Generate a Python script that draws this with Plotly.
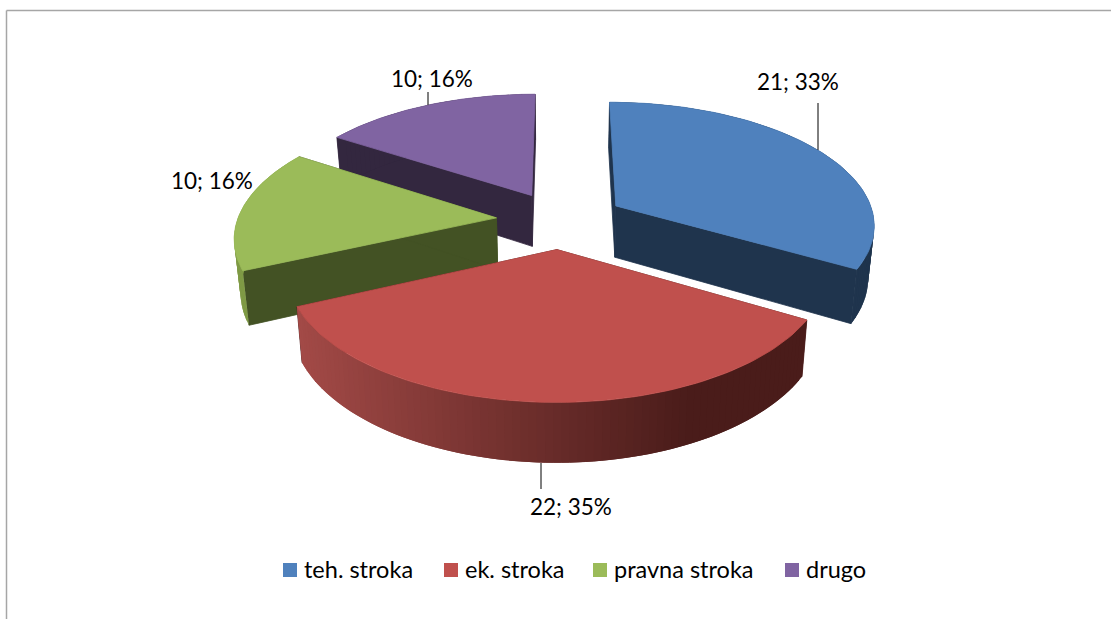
import math
import plotly.graph_objects as go

categories = ["teh. stroka", "ek. stroka", "pravna stroka", "drugo"]
values = [21, 22, 10, 10]
percent_labels = ["33%", "35%", "16%", "16%"]
top_colors = ["#4f81bd", "#c0504d", "#9bbb59", "#8064a2"]
wall_colors = ["#1f344d", "#4a1c1a", "#435224", "#33273f"]
slice_nudge = [(4, 0), (0, 0), (-3, 0), (0, 0)]

W, H = 1111, 619
CX, CY = 560, 220
A, B = 259, 122
P = 0.141
EXPLODE = 0.235
DEPTH = 52
SHRINK = 0.02


def project(X, Y, z=0.0):
    w = (1 - P * Y) * (1 + SHRINK * z)
    return CX + A * X / w, CY + (B * Y) / (1 - P * Y) + DEPTH * z / (1 - 0.8 * P * Y)


def mix(c1, c2, t):
    a = [int(c1[i:i + 2], 16) for i in (1, 3, 5)]
    b = [int(c2[i:i + 2], 16) for i in (1, 3, 5)]
    return "#%02x%02x%02x" % tuple(round(u + (v - u) * t) for u, v in zip(a, b))


total = sum(values)
fig = go.Figure()


def poly(xs, ys, color, lw=0.8):
    fig.add_trace(go.Scatter(x=xs, y=ys, mode="lines", fill="toself", fillcolor=color,
                             line=dict(color=color, width=lw), hoverinfo="skip", showlegend=False))


slices = []
start = 0.0
for i, v in enumerate(values):
    sweep = 360.0 * v / total
    slices.append((i, start, start + sweep))
    start += sweep


def rim_pt(i0, th, z=0.0):
    _, s, e = slices[i0]
    m = math.radians((s + e) / 2)
    ox, oy = EXPLODE * math.sin(m), -EXPLODE * math.cos(m)
    t = math.radians(th)
    x, y = project(ox + math.sin(t), oy - math.cos(t), z)
    return x + slice_nudge[i0][0], y + slice_nudge[i0][1]


def apex(i0, z=0.0):
    _, s, e = slices[i0]
    m = math.radians((s + e) / 2)
    x, y = project(EXPLODE * math.sin(m), -EXPLODE * math.cos(m), z)
    return x + slice_nudge[i0][0], y + slice_nudge[i0][1]


def draw_slice(i0):
    _, s, e = slices[i0]
    top, wall = top_colors[i0], wall_colors[i0]
    n = max(10, int((e - s) / 1.5))
    # cut walls
    for th in (s, e):
        a0, a1 = apex(i0), apex(i0, 1)
        r0, r1 = rim_pt(i0, th), rim_pt(i0, th, 1)
        poly([a0[0], r0[0], r1[0], a1[0], a0[0]], [a0[1], r0[1], r1[1], a1[1], a0[1]], wall)
    # outer rim in overlapping strips, drawn from the far end so no seams show
    for k in range(n - 1, -1, -1):
        t0 = s + (e - s) * k / n
        t1 = s + (e - s) * min(n, k + 2) / n
        p = [rim_pt(i0, t0), rim_pt(i0, t1), rim_pt(i0, t1, 1), rim_pt(i0, t0, 1), rim_pt(i0, t0)]
        if i0 == 1:
            f = (700 - p[0][0]) / 400
            col = mix("#4a1c1a", "#a34a47", max(0.0, min(1.0, f)))
        elif i0 == 2:
            col = "#7f9a45"
        else:
            col = wall
        poly([q[0] for q in p], [q[1] for q in p], col, lw=0)
    # top face
    pts = [apex(i0)] + [rim_pt(i0, s + (e - s) * k / 80) for k in range(81)] + [apex(i0)]
    poly([q[0] for q in pts], [q[1] for q in pts], top)


for i0 in (3, 2, 0, 1):
    draw_slice(i0)

# data labels and leader lines
FONT = "Lato, Carlito, sans-serif"
label_font = dict(family=FONT, size=22.5, color="#000000")
label_pos = [(798, 81), (571, 506), (212, 180), (432, 78)]
leaders = [(818, 103, 818, 150), (541, 463, 541, 489), None, (428, 92, 428, 105)]
for i0, (lx, ly) in enumerate(label_pos):
    fig.add_annotation(x=lx, y=ly, text=f"{values[i0]}; {percent_labels[i0]}", showarrow=False,
                       font=label_font, xanchor="center", yanchor="middle")
    if leaders[i0]:
        x0, y0, x1, y1 = leaders[i0]
        fig.add_shape(type="line", x0=x0, y0=y0, x1=x1, y1=y1,
                      line=dict(color="#000000", width=1))

# legend row
legend_x = [290, 451, 600, 792]
legend_y = 570
for c, col, lx in zip(categories, top_colors, legend_x):
    fig.add_trace(go.Scatter(x=[lx], y=[legend_y], mode="markers", name=c, showlegend=False,
                             hoverinfo="skip",
                             marker=dict(symbol="square", size=14, color=col)))
    fig.add_annotation(x=lx + 11.5, y=legend_y - 1, text=c, showarrow=False, xanchor="left",
                       yanchor="middle",
                       font=dict(family=FONT, size=23.5, color="#000000"))

# chart frame
frame = "#a6a6a6"
fig.add_shape(type="line", x0=6.5, y0=10.5, x1=W, y1=10.5, line=dict(color=frame, width=1.5))
fig.add_shape(type="line", x0=6.5, y0=10.5, x1=6.5, y1=H, line=dict(color=frame, width=1.5))

fig.update_layout(
    width=W, height=H, margin=dict(l=0, r=0, t=0, b=0),
    paper_bgcolor="white", plot_bgcolor="white", showlegend=False,
    xaxis=dict(range=[0, W], visible=False, fixedrange=True),
    yaxis=dict(range=[H, 0], visible=False, fixedrange=True),
)
fig.write_html("out.html", config=dict(displayModeBar=False),
               post_script="document.body.style.margin='0';")
